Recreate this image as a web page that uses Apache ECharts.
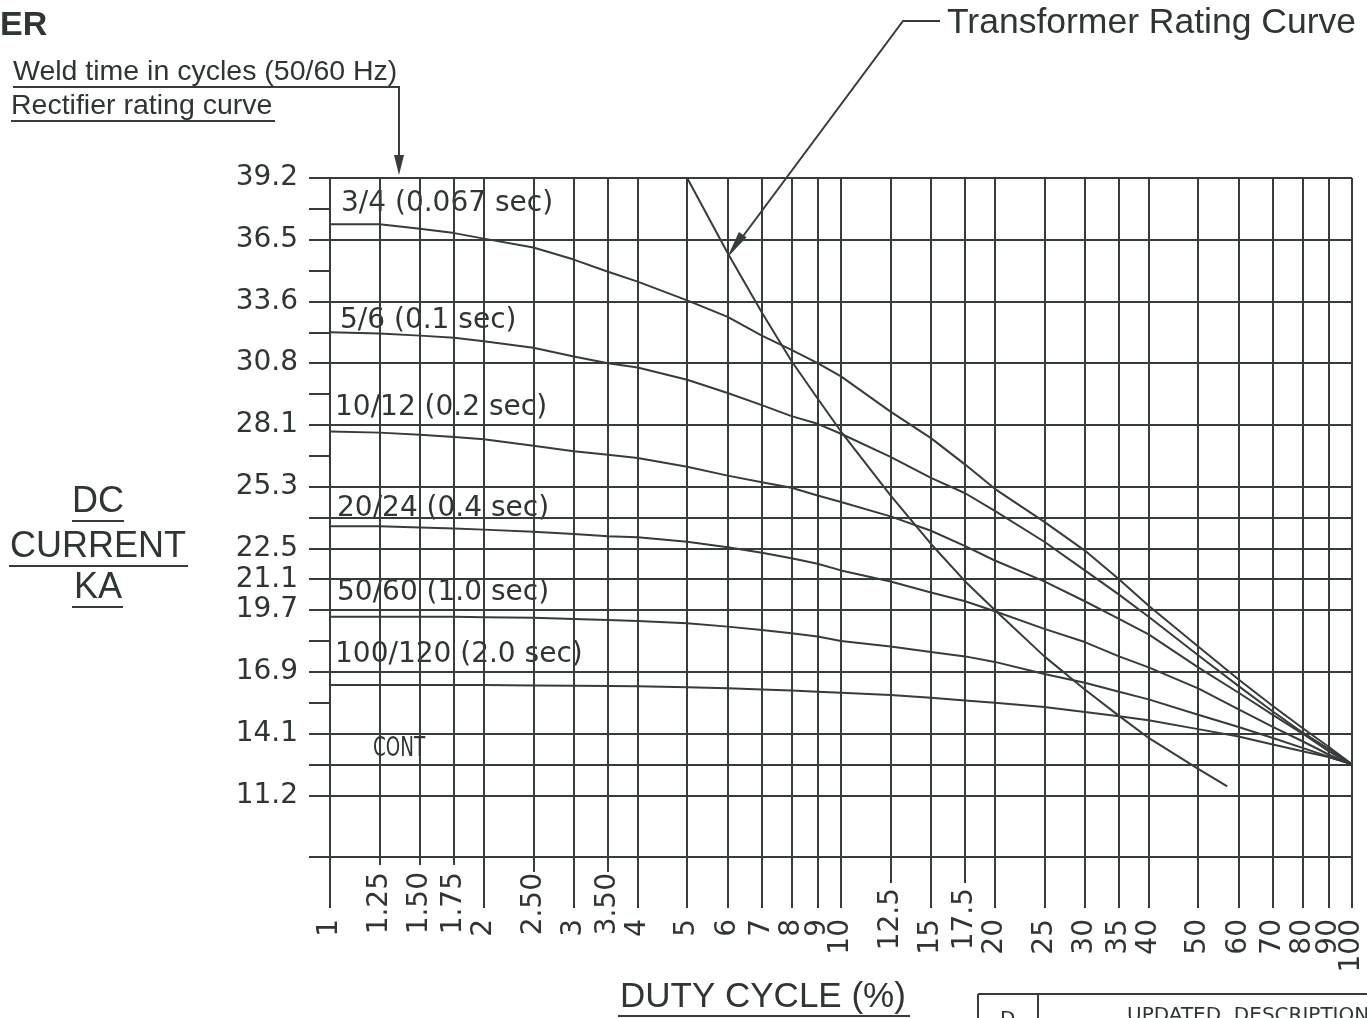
<!DOCTYPE html>
<html><head><meta charset="utf-8">
<script src="https://cdn.jsdelivr.net/npm/echarts@6/dist/echarts.min.js"></script>
<style>html,body{margin:0;padding:0;background:#fff}#c{width:1367px;height:1018px}</style>
</head><body><div id="c"></div>
<script>
// ---------- data ----------
const dutyGrid = [1,1.25,1.5,1.75,2,2.5,3,3.5,4,5,6,7,8,9,10,12.5,15,17.5,20,25,30,35,40,50,60,70,80,90,100];
const dutyLabels = ['1','1.25','1.50','1.75','2','2.50','3','3.50','4','5','6','7','8','9','10','12.5','15','17.5','20','25','30','35','40','50','60','70','80','90','100'];
const xTicksMajor = [1,2,3,4,5,6,7,8,9,10,15,20,25,30,35,40,50,60,70,80,90,100];
const xTicksQuarter = [1.25,1.5,1.75];
const xTicksHalf = [2.5,3.5];
const xTicksTeen = [12.5,17.5];

const yTickValues = [8.4,11.2,12.6,14.0,15.4,16.8,18.2,19.6,21.0,22.4,23.8,25.2,26.6,28.0,29.4,30.8,32.2,33.6,35.0,36.4,37.8,39.2];
const yGridValues = [8.4,11.2,12.6,14.0,16.8,19.6,21.0,22.4,23.8,25.2,28.0,30.8,33.6,36.4,39.2];
const yLabelValues = [11.2,14.0,16.8,19.6,21.0,22.4,25.2,28.0,30.8,33.6,36.4,39.2];
const yLabelText = ['11.2','14.1','16.9','19.7','21.1','22.5','25.3','28.1','30.8','33.6','36.5','39.2'];

// rectifier rating curves, values (KA) at each dutyGrid point
const curve3_4   = [37.1,37.1,36.9,36.7,36.45,36.05,35.5,34.95,34.5,33.65,32.9,32.05,31.4,30.8,30.2,28.6,27.4,26.2,25.1,23.6,22.3,21.0,19.8,17.95,16.45,15.25,14.25,13.4,12.6];
const curve5_6   = [32.2,32.15,32.05,31.95,31.8,31.5,31.1,30.8,30.6,30.05,29.45,28.9,28.4,28.05,27.6,26.55,25.6,24.9,24.1,22.7,21.4,20.3,19.3,17.55,16.15,15.0,14.05,13.3,12.6];
const curve10_12 = [27.7,27.65,27.55,27.45,27.35,27.05,26.8,26.65,26.5,26.1,25.7,25.4,25.15,24.8,24.5,23.85,23.2,22.5,21.85,20.9,20.0,19.2,18.5,17.0,15.85,14.85,14.0,13.2,12.6];
const curve20_24 = [23.4,23.4,23.35,23.3,23.25,23.15,23.05,22.95,22.9,22.7,22.45,22.2,21.95,21.7,21.4,20.9,20.4,20.0,19.55,18.75,18.15,17.5,17.0,16.05,15.1,14.3,13.65,13.05,12.6];
const curve50_60 = [19.3,19.3,19.3,19.3,19.28,19.25,19.2,19.15,19.1,19.0,18.85,18.7,18.55,18.4,18.2,17.95,17.7,17.5,17.25,16.7,16.3,15.9,15.55,14.85,14.3,13.8,13.35,12.95,12.6];
const curve100_120 = [16.2,16.2,16.2,16.2,16.2,16.18,16.17,16.16,16.15,16.1,16.05,16.0,15.95,15.9,15.85,15.75,15.62,15.5,15.4,15.2,14.98,14.78,14.6,14.2,13.87,13.5,13.2,12.93,12.6];
const curveNames = ['3/4 (0.067 sec)','5/6 (0.1 sec)','10/12 (0.2 sec)','20/24 (0.4 sec)','50/60 (1.0 sec)','100/120 (2.0 sec)'];

// transformer rating curve
const transformerDuty = [5,6,7,8,9,10,12.5,15,17.5,20,25,30,35,40,50,57];
const transformerKA   = [39.2,35.8,33.1,30.9,29.2,27.7,24.8,22.6,20.9,19.6,17.5,16.0,14.8,13.8,12.4,11.6];

// ---------- styling ----------
const LINE = '#363b3b';
const TXT = '#2f3434';
const CAD = '"DejaVu Sans"';
const CAD_W = 'normal';
const SANS = '"Liberation Sans", Arial, sans-serif';
const X_MIN = 1, X_MAX = 100;

function nearestText(v, vals, texts, log) {
  let bi = 0, bd = Infinity;
  vals.forEach((t, i) => {
    const d = log ? Math.abs(Math.log(t) - Math.log(v)) : Math.abs(t - v);
    if (d < bd) { bd = d; bi = i; }
  });
  return texts[bi];
}

function xAxisDef(values, tickLen, margin, showLine) {
  const vals = values.map(v => (v >= X_MAX ? X_MAX * 0.999999 : v));
  return {
    type: 'log', logBase: 10, min: X_MIN, max: X_MAX, position: 'bottom', gridIndex: 0,
    axisLine: { show: showLine, lineStyle: { color: LINE, width: 2 } },
    axisTick: { show: true, customValues: vals, length: tickLen, inside: false, lineStyle: { color: LINE, width: 2 } },
    axisLabel: {
      show: true, customValues: vals, rotate: 90, margin: margin,
      fontFamily: CAD, fontWeight: CAD_W, fontSize: 28, color: TXT, hideOverlap: false,
      showMinLabel: true, showMaxLabel: true,
      formatter: v => nearestText(v, dutyGrid, dutyLabels, true)
    },
    splitLine: { show: false }, minorTick: { show: false }, minorSplitLine: { show: false }
  };
}

const allCurves = [curve3_4, curve5_6, curve10_12, curve20_24, curve50_60, curve100_120];
const series = allCurves.map((vals, k) => ({
  type: 'line', name: curveNames[k], xAxisIndex: 0, yAxisIndex: 0,
  data: dutyGrid.map((d, j) => [d, vals[j]]),
  symbol: 'none', showSymbol: false, smooth: false,
  lineStyle: { color: LINE, width: 2, join: 'round' }, silent: true, animation: false, z: 5
}));
series.push({
  type: 'line', name: 'Transformer Rating Curve', xAxisIndex: 0, yAxisIndex: 0,
  data: transformerDuty.map((d, j) => [d, transformerKA[j]]),
  symbol: 'none', showSymbol: false, smooth: false,
  lineStyle: { color: LINE, width: 2, join: 'round' }, silent: true, animation: false, z: 5
});
series[0].markLine = {
  symbol: ['none', 'none'], silent: true, animation: false,
  label: { show: false },
  lineStyle: { color: LINE, width: 2, type: 'solid' },
  emphasis: { disabled: true },
  data: dutyGrid.map(d => ({ xAxis: d })).concat(yGridValues.map(v => ({ yAxis: v })))
};

function txt(text, x, y, font, align, extra) {
  return Object.assign({
    type: 'text', x: x, y: y, silent: true,
    style: { text: text, font: font, fill: TXT, align: align || 'left', verticalAlign: 'middle',
             textAlign: align || 'left', textVerticalAlign: 'middle' }
  }, extra || {});
}
function ln(x1, y1, x2, y2) {
  return { type: 'line', silent: true, shape: { x1, y1, x2, y2 }, style: { stroke: LINE, lineWidth: 2 } };
}
const CADF = CAD_W + ' 28px ' + CAD;

const graphics = [
  txt('ER', 0, 26, 'bold 34px ' + SANS),
  txt('Weld time in cycles (50/60 Hz)', 13, 72, '28.5px ' + SANS),
  { type: 'polyline', silent: true, shape: { points: [[13, 87], [399, 87], [399, 160]] }, style: { stroke: LINE, lineWidth: 2, fill: null } },
  { type: 'polygon', silent: true, shape: { points: [[394, 155], [404, 155], [399, 175]] }, style: { fill: LINE } },
  txt('Rectifier rating curve', 11, 106, '28.5px ' + SANS),
  ln(11, 121, 275, 121),
  txt('Transformer Rating Curve', 947, 23, '35.5px ' + SANS),
  { type: 'polyline', silent: true, shape: { points: [[940, 21], [903, 21], [735, 247]] }, style: { stroke: LINE, lineWidth: 2, fill: null } },
  { type: 'polygon', silent: true, shape: { points: [[727, 258], [746.5, 237.2], [738.9, 231.9]] }, style: { fill: LINE } },
  txt('DC', 98, 502, '36px ' + SANS, 'center'),
  ln(72, 521, 124, 521),
  txt('CURRENT', 98, 547, '36px ' + SANS, 'center'),
  ln(9, 566, 188, 566),
  txt('KA', 98, 588, '36px ' + SANS, 'center'),
  ln(72, 607, 123, 607),
  txt('DUTY CYCLE (%)', 620, 997, '35px ' + SANS),
  ln(618, 1016, 910, 1016),
  // table fragment bottom right
  ln(978, 994, 1367, 994),
  ln(978, 994, 978, 1018),
  ln(1038, 994, 1038, 1018),
  txt('D', 1000, 1020, CAD_W + ' 20px ' + CAD),
  txt('UPDATED  DESCRIPTION', 1127, 1016, CAD_W + ' 20px ' + CAD),
  // curve annotations
  txt(curveNames[0], 341, 204, CADF),
  txt(curveNames[1], 340, 321, CADF),
  txt(curveNames[2], 335, 408, CADF),
  txt(curveNames[3], 337, 509, CADF),
  txt(curveNames[4], 337, 593, CADF),
  txt(curveNames[5], 335, 655, CADF),
  txt('CONT', 0, 0, CAD_W + ' 27px ' + CAD, 'left', { x: 373, y: 749, scaleX: 0.68, scaleY: 1, z: 10 })
];

// alternate the whole-number ticks across two axes so neighbouring labels never collide
const majorA = xTicksMajor.filter((v, i) => i % 2 === 0);
const majorB = xTicksMajor.filter((v, i) => i % 2 === 1);

const option = {
  backgroundColor: '#ffffff',
  animation: false,
  grid: { left: 330, right: 15, top: 178, bottom: 161, containLabel: false, outerBoundsMode: 'none' },
  xAxis: [
    xAxisDef(majorA, 51, 62, true),
    xAxisDef(majorB, 51, 62, false),
    xAxisDef(xTicksQuarter, 8, 15, false),
    xAxisDef(xTicksHalf, 15, 16, false),
    xAxisDef(xTicksTeen, 26, 31, false)
  ],
  yAxis: [{
    type: 'value', min: 8.4, max: 39.2, interval: 1.4, position: 'left',
    axisLine: { show: true, lineStyle: { color: LINE, width: 2 } },
    axisTick: { show: true, customValues: yTickValues, length: 21, lineStyle: { color: LINE, width: 2 } },
    axisLabel: {
      show: true, customValues: yLabelValues, margin: 32, fontFamily: CAD, fontWeight: CAD_W, fontSize: 28, color: TXT,
      hideOverlap: false,
      formatter: v => nearestText(v, yLabelValues, yLabelText, false)
    },
    splitLine: { show: false }
  }],
  graphic: { elements: graphics },
  series: series
};

const chart = echarts.init(document.getElementById('c'), null, { renderer: 'canvas' });
chart.setOption(option);
</script>
</body></html>
